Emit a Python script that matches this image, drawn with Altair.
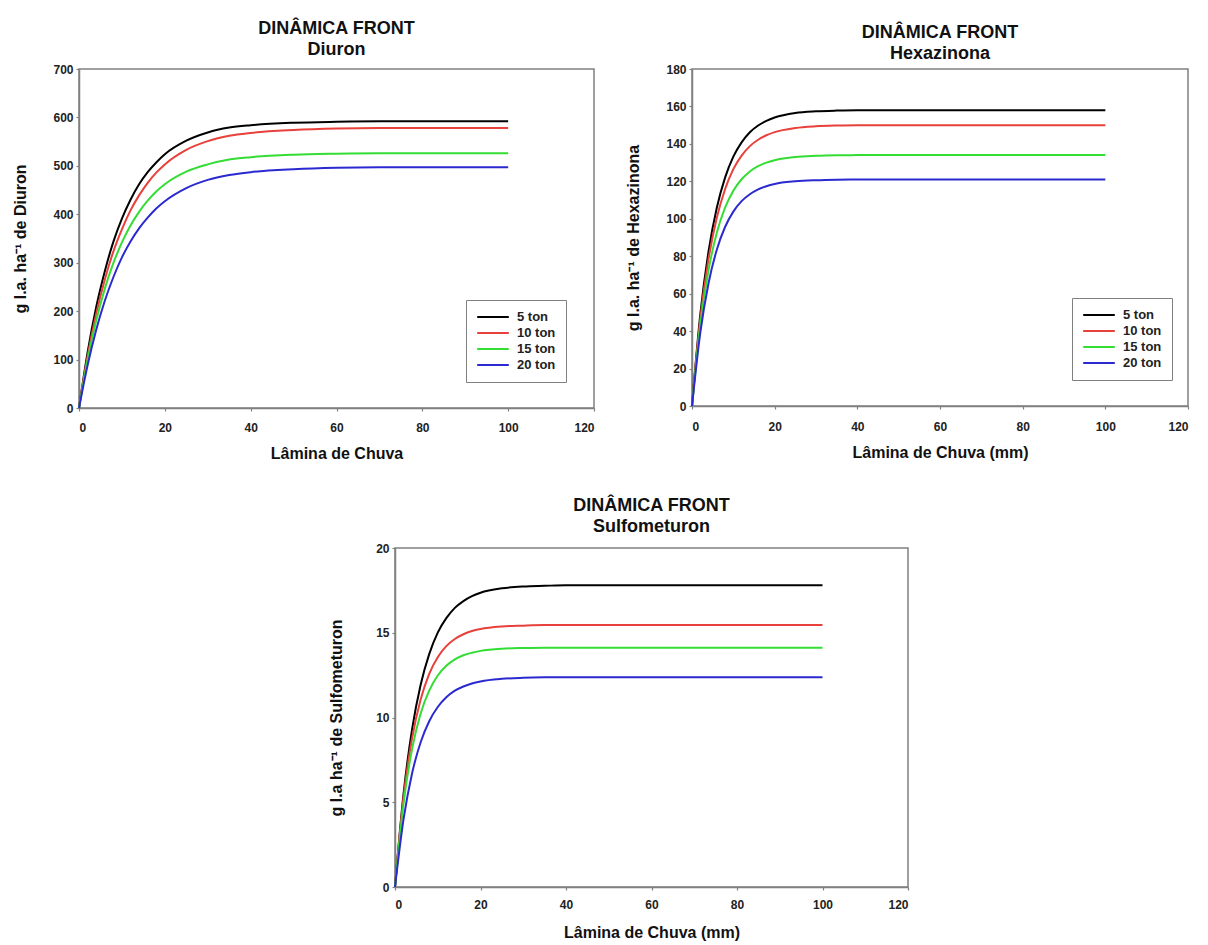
import altair as alt
import pandas as pd

FONT = "Liberation Sans"

rain_mm = [0, 2, 4, 6, 8, 10, 12, 14, 16, 18, 20, 25, 30, 35, 40, 50, 60, 70, 80, 90, 100]
series = ["5 ton", "10 ton", "15 ton", "20 ton"]
colors = ["#000000", "#e8403a", "#33dd33", "#2a2ad0"]

diuron_5 = [0, 115, 208, 282, 343, 391, 430, 462, 487, 507, 524, 552, 569, 579, 584, 589, 591, 592, 592, 592, 592]
diuron_10 = [0, 107, 194, 265, 323, 369, 408, 439, 465, 486, 503, 533, 551, 562, 568, 574, 577, 578, 578, 578, 578]
diuron_15 = [0, 100, 180, 246, 299, 342, 377, 405, 428, 447, 462, 488, 503, 513, 518, 523, 525, 526, 526, 526, 526]
diuron_20 = [0, 88, 161, 221, 270, 311, 344, 371, 393, 412, 427, 454, 471, 481, 487, 493, 496, 497, 497, 497, 497]

hexa_5 = [0, 48.8, 82.6, 105.9, 122.0, 133.2, 140.8, 146.2, 149.8, 152.3, 154.1, 156.5, 157.4, 157.8, 158, 158, 158, 158, 158, 158, 158]
hexa_10 = [0, 46.4, 78.5, 100.5, 115.8, 126.5, 133.7, 138.8, 142.2, 144.6, 146.3, 148.5, 149.4, 149.8, 150, 150, 150, 150, 150, 150, 150]
hexa_15 = [0, 43.3, 72.6, 92.5, 105.9, 115.0, 121.1, 125.3, 128.1, 130.0, 131.3, 133.0, 133.6, 133.9, 134, 134, 134, 134, 134, 134, 134]
hexa_20 = [0, 39.1, 65.6, 83.5, 95.6, 103.8, 109.4, 113.1, 115.7, 117.4, 118.6, 120.0, 120.6, 120.9, 121, 121, 121, 121, 121, 121, 121]

sulfo_5 = [0, 5.50, 9.31, 11.93, 13.74, 15.01, 15.86, 16.47, 16.87, 17.16, 17.36, 17.62, 17.73, 17.77, 17.8, 17.8, 17.8, 17.8, 17.8, 17.8, 17.8]
sulfo_10 = [0, 5.30, 8.78, 11.06, 12.58, 13.56, 14.21, 14.63, 14.91, 15.10, 15.22, 15.37, 15.42, 15.45, 15.45, 15.45, 15.45, 15.45, 15.45, 15.45, 15.45]
sulfo_15 = [0, 4.93, 8.15, 10.24, 11.59, 12.48, 13.05, 13.43, 13.67, 13.82, 13.93, 14.06, 14.10, 14.12, 14.12, 14.12, 14.12, 14.12, 14.12, 14.12, 14.12]
sulfo_20 = [0, 4.00, 6.71, 8.54, 9.78, 10.62, 11.19, 11.58, 11.83, 12.01, 12.13, 12.28, 12.34, 12.37, 12.38, 12.38, 12.38, 12.38, 12.38, 12.38, 12.38]

x_ticks = [0, 20, 40, 60, 80, 100, 120]


def frame(cols):
    rows = []
    for s, vals in zip(series, cols):
        for x, y in zip(rain_mm, vals):
            rows.append({"x": x, "y": y, "s": s})
    return pd.DataFrame(rows)


def panel(df, name, ytitle, ymax, ystep, xtitle, w, h, legend_xy=None,
          ytp=24, toff=4, lab_pad=11, xtp=12):
    if legend_xy is not None:
        leg = alt.Legend(
            title=None, orient="none", legendX=legend_xy[0], legendY=legend_xy[1],
            symbolType="stroke", symbolSize=1000, symbolStrokeWidth=2,
            labelFont=FONT, labelFontWeight="bold", labelFontSize=13,
            labelColor="#222222", strokeColor="#808080", padding=10,
            clipHeight=14, rowPadding=2, labelOffset=7,
        )
        color = alt.Color("s:N", scale=alt.Scale(domain=series, range=colors),
                          sort=series, legend=leg)
    else:
        color = alt.Color("s:N", scale=alt.Scale(domain=series, range=colors),
                          sort=series, legend=None)
    return (
        alt.Chart(df)
        .mark_line(strokeWidth=2, interpolate="monotone")
        .encode(
            x=alt.X("x:Q", scale=alt.Scale(domain=[0, 120], nice=False),
                    axis=alt.Axis(values=x_ticks, title=xtitle, labelPadding=lab_pad,
                                  titlePadding=xtp)),
            y=alt.Y("y:Q", scale=alt.Scale(domain=[0, ymax], nice=False),
                    axis=alt.Axis(values=list(range(0, ymax + 1, ystep)), title=ytitle,
                                  labelPadding=3, titlePadding=ytp)),
            color=color,
            order=alt.Order("x:Q"),
        )
        .properties(
            width=w, height=h,
            title=alt.TitleParams(["DINÂMICA FRONT", name], font=FONT, fontSize=18,
                                  fontWeight="bold", anchor="middle", offset=toff,
                                  lineHeight=21, color="#111111"),
        )
    )


p1 = panel(frame([diuron_5, diuron_10, diuron_15, diuron_20]), "Diuron",
           "g I.a. ha⁻¹ de Diuron", 700, 100, "Lâmina de Chuva", 515, 339,
           legend_xy=(387, 231), ytp=24, toff=4, lab_pad=11, xtp=12)
p2 = panel(frame([hexa_5, hexa_10, hexa_15, hexa_20]), "Hexazinona",
           "g I.a. ha⁻¹ de Hexazinona", 180, 20, "Lâmina de Chuva (mm)", 496, 337,
           legend_xy=(380, 229), ytp=24, toff=0, lab_pad=12, xtp=12)
p3 = panel(frame([sulfo_5, sulfo_10, sulfo_15, sulfo_20]), "Sulfometuron",
           "g I.a ha⁻¹ de Sulfometuron", 20, 5, "Lâmina de Chuva (mm)", 513, 339,
           ytp=31, toff=6, lab_pad=9, xtp=14)

spacer = (
    alt.Chart(pd.DataFrame({"v": [0]}))
    .mark_point(opacity=0)
    .encode(x=alt.X("v:Q", axis=None), y=alt.Y("v:Q", axis=None))
    .properties(width=1, height=1, view=alt.ViewBackground(stroke="transparent"))
)

row1 = alt.hconcat(p1, p2, spacing=29).resolve_scale(color="independent")
row2 = alt.hconcat(spacer, p3, spacing=244).resolve_scale(color="independent")

chart = (
    alt.vconcat(row1, row2, spacing=34)
    .resolve_scale(color="independent")
    .properties(padding={"left": 4, "top": 11, "right": 0, "bottom": 0})
    .configure_view(stroke="#808080", strokeWidth=1.5)
    .configure_axis(
        grid=False, domainColor="#808080", domainWidth=1.5, tickColor="#808080",
        tickSize=3, tickWidth=1.2, labelFont=FONT, labelFontSize=12,
        labelFontWeight="bold", labelColor="#222222", titleFont=FONT,
        titleFontSize=16, titleFontWeight="bold", titleColor="#111111",
    )
)

chart.save("out.html", embed_options={"renderer": "svg", "actions": False})
